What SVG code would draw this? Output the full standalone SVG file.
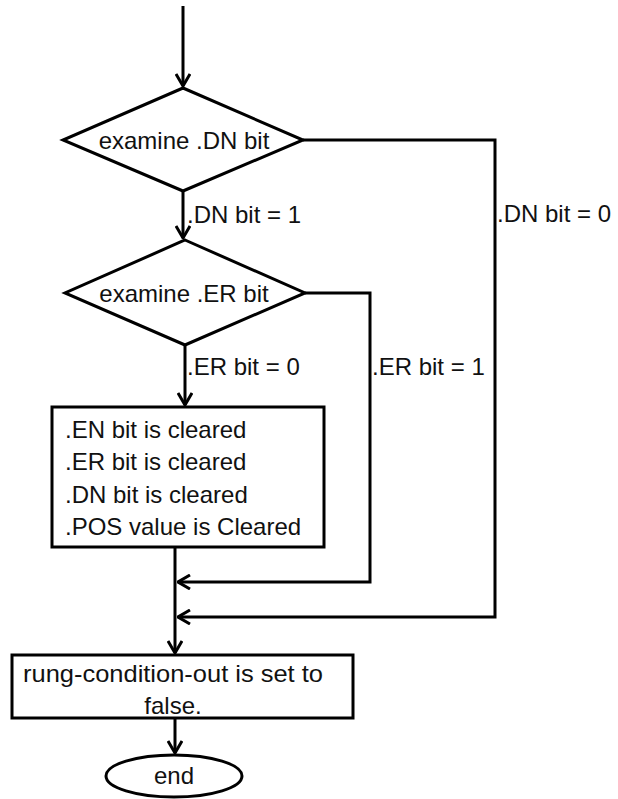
<svg xmlns="http://www.w3.org/2000/svg" width="618" height="799" viewBox="0 0 618 799">
<style>
.shape{fill:#fff;stroke:#000;stroke-width:3}
.line{fill:none;stroke:#000;stroke-width:3}
text{font-family:"Liberation Sans",Arial,sans-serif;font-size:24px;fill:#111}
.c{text-anchor:middle}
</style>
<defs>
<marker id="arr" viewBox="0 0 14 16" markerWidth="14" markerHeight="16" refX="13" refY="8" orient="auto" markerUnits="userSpaceOnUse">
<path d="M1,1 L13,8 L1,15" fill="none" stroke="#000" stroke-width="3"/>
</marker>
</defs>
<g id="connectors">
<path class="line" d="M183,6 V86" marker-end="url(#arr)"/>
<path class="line" d="M183,191 V238" marker-end="url(#arr)"/>
<path class="line" d="M185,345 V405" marker-end="url(#arr)"/>
<path class="line" d="M303,140 H495 V617 H178" marker-end="url(#arr)"/>
<path class="line" d="M305,293 H370 V582 H178" marker-end="url(#arr)"/>
<path class="line" d="M175,547 V653" marker-end="url(#arr)"/>
<path class="line" d="M175,718 V753" marker-end="url(#arr)"/>
<text x="187" y="223">.DN bit = 1</text>
<text x="187" y="375">.ER bit = 0</text>
<text x="372" y="375">.ER bit = 1</text>
<text x="497" y="222">.DN bit = 0</text>
</g>
<g id="dn-decision">
<polygon class="shape" points="183,88 303,140 183,191 63,140"/>
<text class="c" x="184" y="149">examine .DN bit</text>
</g>
<g id="er-decision">
<polygon class="shape" points="185,240 305,293 185,345 65,293"/>
<text class="c" x="184" y="302">examine .ER bit</text>
</g>
<g id="clear-box">
<rect class="shape" x="52" y="407" width="272" height="140"/>
<text x="65" y="438">.EN bit is cleared</text>
<text x="65" y="470">.ER bit is cleared</text>
<text x="65" y="503">.DN bit is cleared</text>
<text x="65" y="535">.POS value is Cleared</text>
</g>
<g id="rung-box">
<rect class="shape" x="12" y="655" width="341" height="63"/>
<text x="23" y="682" textLength="300" lengthAdjust="spacingAndGlyphs">rung-condition-out is set to</text>
<text class="c" x="173" y="714">false.</text>
</g>
<g id="end">
<ellipse class="shape" cx="174" cy="776" rx="68" ry="21"/>
<text class="c" x="174" y="784">end</text>
</g>
</svg>
